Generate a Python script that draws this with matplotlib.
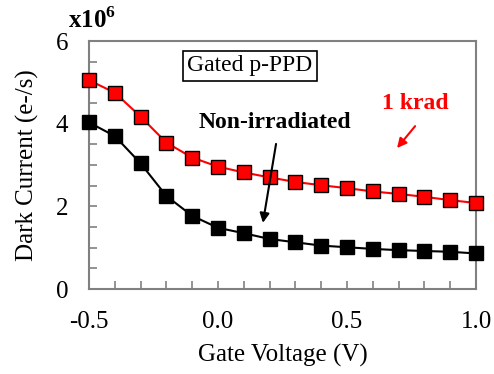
import matplotlib
matplotlib.use("Agg")
import matplotlib.pyplot as plt
from matplotlib.ticker import MultipleLocator

plt.rcParams['font.family'] = ['Liberation Serif', 'DejaVu Serif']
plt.rcParams['mathtext.fontset'] = 'custom'
plt.rcParams['mathtext.rm'] = 'Liberation Serif'
plt.rcParams['mathtext.bf'] = 'Liberation Serif:bold'

voltage = [-0.5, -0.4, -0.3, -0.2, -0.1, 0.0, 0.1, 0.2, 0.3, 0.4, 0.5, 0.6, 0.7, 0.8, 0.9, 1.0]
krad1 = [5.05, 4.75, 4.17, 3.54, 3.18, 2.96, 2.82, 2.70, 2.59, 2.51, 2.44, 2.36, 2.30, 2.23, 2.15, 2.08]
non_irr = [4.03, 3.70, 3.04, 2.25, 1.77, 1.48, 1.35, 1.21, 1.13, 1.05, 1.01, 0.97, 0.94, 0.92, 0.90, 0.86]

fig = plt.figure(figsize=(4.94, 3.74), dpi=100)
ax = fig.add_axes([89/494, 1-289/374, (476-89)/494, (289-41)/374])

ax.plot(voltage, krad1, color='#ff0000', lw=1.5, marker='s', ms=10,
        mfc='#ff0000', mec='black', mew=1.0, clip_on=False, zorder=3)
ax.plot(voltage, non_irr, color='black', lw=1.5, marker='s', ms=10,
        mfc='black', mec='black', mew=1.0, clip_on=False, zorder=3)

ax.set_xlim(-0.5, 1.0)
ax.set_ylim(0, 6)
ax.xaxis.set_major_locator(MultipleLocator(0.5))
ax.xaxis.set_minor_locator(MultipleLocator(0.1))
ax.yaxis.set_major_locator(MultipleLocator(2))
ax.yaxis.set_minor_locator(MultipleLocator(0.5))
ax.xaxis.set_major_formatter(matplotlib.ticker.FormatStrFormatter('%.1f'))
ax.tick_params(which='both', direction='in', color='#808080', width=1.2)
ax.tick_params(which='major', length=6, labelsize=18)
ax.tick_params(which='minor', length=6)
ax.tick_params(axis='y', pad=15)
ax.tick_params(axis='x', pad=16)
for s in ax.spines.values():
    s.set_color('#808080')
    s.set_linewidth(1.5)

ax.set_xlabel('Gate Voltage (V)', fontsize=18, labelpad=8)
ax.set_ylabel('Dark Current (e-/s)', fontsize=18, labelpad=12)

fig.text(68/494, 1-20/374, r'x10$^{\mathbf{6}}$', fontsize=18, fontweight='bold', va='center', ha='left')

ax.text(0.124, 5.40, 'Gated p-PPD', fontsize=17, ha='center', va='center',
        bbox=dict(boxstyle='square,pad=0.2', fc='white', ec='black', lw=1.2))
ax.text(0.221, 4.02, 'Non-irradiated', fontsize=17, fontweight='bold', ha='center', va='center')
ax.text(0.764, 4.48, '1 krad', fontsize=17, fontweight='bold', color='#ff0000', ha='center', va='center')

ax.annotate('', xy=(0.174, 1.60), xytext=(0.225, 3.51),
            arrowprops=dict(arrowstyle='-|>', color='black', lw=1.5, mutation_scale=14,
                            shrinkA=0, shrinkB=0))
ax.annotate('', xy=(0.694, 3.41), xytext=(0.764, 3.94),
            arrowprops=dict(arrowstyle='-|>', color='#ff0000', lw=1.5, mutation_scale=14,
                            shrinkA=0, shrinkB=0))

fig.savefig('out.png', dpi=100)
